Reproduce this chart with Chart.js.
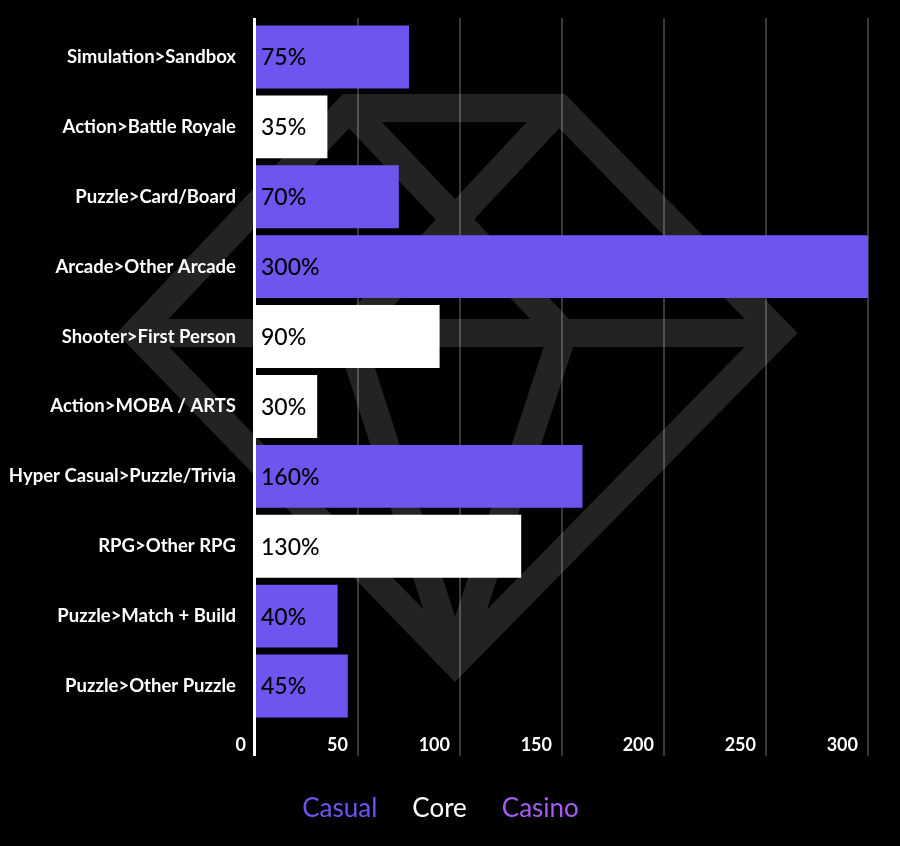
<!DOCTYPE html>
<html>
<head>
<meta charset="utf-8">
<script src="https://cdn.jsdelivr.net/npm/chart.js@4.4.1/dist/chart.umd.min.js"></script>
<style>
  html, body { margin: 0; padding: 0; background: #000; }
  #wrap { width: 900px; height: 846px; }
</style>
</head>
<body>
<div id="wrap"><canvas id="genreChart"></canvas></div>
<script>
// categories, top to bottom
var categories = [
    'Simulation>Sandbox',
    'Action>Battle Royale',
    'Puzzle>Card/Board',
    'Arcade>Other Arcade',
    'Shooter>First Person',
    'Action>MOBA / ARTS',
    'Hyper Casual>Puzzle/Trivia',
    'RPG>Other RPG',
    'Puzzle>Match + Build',
    'Puzzle>Other Puzzle'
];

// growth in %, one series per game type (null = not this type)
var casualValues = [75, null, 70, 300, null, null, 160, null, 40, 45];
var coreValues = [null, 35, null, null, 90, 30, null, 130, null, null];
var casinoValues = [null, null, null, null, null, null, null, null, null, null];

var xMin = 0;
var xMax = 300;
var xStep = 50;

var PURPLE = '#7054EF';
var WHITE = '#FFFFFF';
var CASINO = '#A35DF0';
var FONT = 'Lato';

// background diamond logo (decoration only)
var diamondPlugin = {
    id: 'diamond',
    beforeDraw: function (chart) {
        var c = chart.ctx;
        c.save();
        c.fillStyle = '#000';
        c.fillRect(0, 0, chart.width, chart.height);
        c.strokeStyle = '#232323';
        c.lineWidth = 28;
        c.lineJoin = 'miter';
        c.miterLimit = 10;
        c.beginPath();
        // outline
        c.moveTo(349, 108);
        c.lineTo(559, 108);
        c.lineTo(778, 333);
        c.lineTo(455, 662);
        c.lineTo(136, 333);
        c.closePath();
        // girdle
        c.moveTo(136, 333);
        c.lineTo(778, 333);
        // crown
        c.moveTo(349, 108);
        c.lineTo(563, 333);
        c.moveTo(559, 108);
        c.lineTo(349, 333);
        // pavilion
        c.moveTo(349, 333);
        c.lineTo(455, 662);
        c.moveTo(563, 333);
        c.lineTo(455, 662);
        c.stroke();
        c.restore();
    }
};

// vertical grid lines + white zero line, a bit longer than the chart area
var gridPlugin = {
    id: 'customGrid',
    beforeDatasetsDraw: function (chart) {
        var x = chart.scales.x;
        var area = chart.chartArea;
        var c = chart.ctx;
        c.save();
        x.ticks.forEach(function (t) {
            var px = x.getPixelForValue(t.value);
            c.beginPath();
            if (t.value === 0) {
                c.strokeStyle = WHITE;
                c.lineWidth = 3;
                px -= 1.5;
            } else {
                c.strokeStyle = 'rgba(255,255,255,0.3)';
                c.lineWidth = 1.5;
            }
            c.moveTo(px, area.top - 4);
            c.lineTo(px, area.bottom + 35);
            c.stroke();
        });
        c.restore();
    }
};

// "75%" etc. inside the bars
var valueLabels = {
    id: 'valueLabels',
    afterDatasetsDraw: function (chart) {
        var c = chart.ctx;
        c.save();
        c.fillStyle = '#000';
        c.font = '500 23px ' + FONT;
        c.textAlign = 'left';
        c.textBaseline = 'middle';
        chart.data.datasets.forEach(function (ds, i) {
            chart.getDatasetMeta(i).data.forEach(function (bar, j) {
                var v = ds.data[j];
                if (v === null || v === undefined) return;
                c.fillText(v + '%', bar.base + 5, bar.y + 1);
            });
        });
        c.restore();
    }
};

var legendColors = [PURPLE, WHITE, CASINO];

var ctx = document.getElementById('genreChart').getContext('2d');
var chart = new Chart(ctx, {
    type: 'bar',
    data: {
        labels: categories,
        datasets: [
            { label: 'Casual', data: casualValues, backgroundColor: PURPLE },
            { label: 'Core', data: coreValues, backgroundColor: WHITE },
            { label: 'Casino', data: casinoValues, backgroundColor: CASINO }
        ]
    },
    options: {
        indexAxis: 'y',
        responsive: true,
        maintainAspectRatio: false,
        animation: false,
        barPercentage: 0.9,
        categoryPercentage: 1,
        layout: { padding: { top: 22, right: 32, bottom: 14, left: 0 } },
        scales: {
            x: {
                min: xMin,
                max: xMax,
                stacked: true,
                grid: { display: false, drawTicks: false },
                border: { display: false },
                ticks: {
                    stepSize: xStep,
                    color: WHITE,
                    font: { family: FONT, weight: 'bold', size: 18 },
                    align: 'end',
                    labelOffset: -10,
                    padding: 13
                },
                afterFit: function (s) { s.height = 53; }
            },
            y: {
                stacked: true,
                grid: { display: false, drawTicks: false },
                border: { display: false },
                ticks: {
                    color: WHITE,
                    font: { family: FONT, weight: 'bold', size: 18.5 },
                    padding: 20
                },
                afterFit: function (s) {
                    s.width = 256;
                    // labels sit mid-band, no extra room needed above/below
                    s.paddingTop = 0;
                    s.paddingBottom = 0;
                }
            }
        },
        plugins: {
            tooltip: { enabled: false },
            legend: {
                position: 'bottom',
                labels: {
                    boxWidth: 0,
                    padding: 22,
                    font: { family: FONT, size: 26 },
                    generateLabels: function (chart) {
                        return chart.data.datasets.map(function (ds, i) {
                            return {
                                text: ds.label,
                                fontColor: legendColors[i],
                                fillStyle: 'rgba(0,0,0,0)',
                                strokeStyle: 'rgba(0,0,0,0)',
                                lineWidth: 0,
                                hidden: false,
                                datasetIndex: i
                            };
                        });
                    }
                }
            }
        }
    },
    plugins: [diamondPlugin, gridPlugin, valueLabels]
});
</script>
</body>
</html>
